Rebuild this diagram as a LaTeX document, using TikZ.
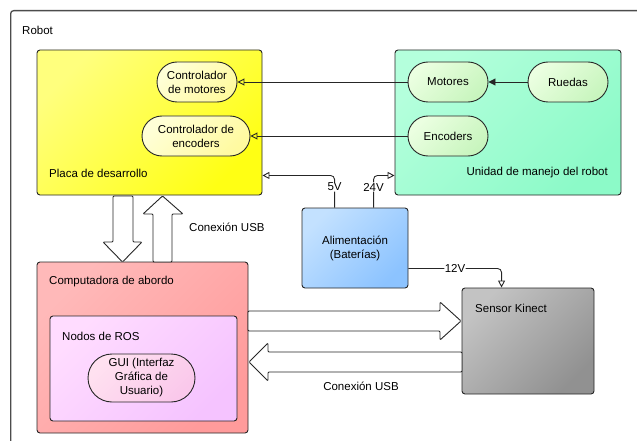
\documentclass[tikz,border=0pt]{standalone}
\usepackage{fontspec}
\setmainfont{Liberation Sans}
\usetikzlibrary{arrows.meta,calc,positioning,shapes.misc}
\tikzset{
  every picture/.style={draw=black, text=black},
}
\definecolor{placaA}{RGB}{255,255,125}
\definecolor{placaB}{RGB}{255,255,20}
\definecolor{unidadA}{RGB}{180,255,220}
\definecolor{unidadB}{RGB}{140,250,200}
\definecolor{pillYA}{RGB}{255,255,215}
\definecolor{pillYB}{RGB}{255,250,160}
\definecolor{pillGA}{RGB}{235,255,225}
\definecolor{pillGB}{RGB}{200,245,190}
\definecolor{alimA}{RGB}{195,225,255}
\definecolor{alimB}{RGB}{140,195,255}
\definecolor{kinectA}{RGB}{195,195,195}
\definecolor{kinectB}{RGB}{145,145,145}
\definecolor{compA}{RGB}{255,185,185}
\definecolor{compB}{RGB}{255,155,155}
\definecolor{rosA}{RGB}{255,220,255}
\definecolor{rosB}{RGB}{245,195,255}
\definecolor{guiA}{RGB}{255,225,240}
\definecolor{guiB}{RGB}{250,200,235}

\begin{document}
\begin{tikzpicture}[x=1pt, y=-1pt,
  every node/.style={font=\fontsize{11.5}{14}\selectfont},
  block/.style={draw=black!85, line width=0.9pt, rounded corners=3pt, inner sep=0pt},
  pill/.style={draw=black!85, line width=0.9pt, rounded rectangle, minimum height=40pt,
    inner sep=0pt, align=center},
  lbl/.style={inner sep=0pt, anchor=west},
  sig/.style={draw=black!85, line width=0.9pt, rounded corners=4pt,
    -{Triangle[open, length=7pt, width=7pt]}},
  volt/.style={fill=white, inner sep=0.5pt},
  usb/.style={draw=black!85, fill=white, line width=0.9pt, rounded corners=1pt}]
\useasboundingbox (0,0) rectangle (637,441);
\clip (0,0) rectangle (637,441);
% Robot frame
\node[block, draw=black!70, line width=1.3pt, minimum width=660pt, minimum height=460pt,
  anchor=north west] (robot) at (10,10) {};
\node[lbl] (robotlbl) at (22,30) {Robot};
% Placa de desarrollo
\node[block, left color=placaA, right color=placaB, shading angle=45,
  minimum width=225pt, minimum height=145pt] (placa) at (149.5,122.5) {};
\node[lbl] (placalbl) at (49,173) {Placa de desarrollo};
\node[pill, left color=pillYA, right color=pillYB, shading angle=45,
  minimum width=80pt] (cm) at (197,82) {Controlador\\de motores};
\node[pill, left color=pillYA, right color=pillYB, shading angle=45,
  minimum width=108pt] (ce) at (196,136) {Controlador de\\encoders};
% Unidad de manejo
\node[block, left color=unidadA, right color=unidadB, shading angle=45,
  minimum width=226pt, minimum height=145pt] (unidad) at (508,122.5) {};
\node[lbl, anchor=east] (unidadlbl) at (608,173) {Unidad de manejo del robot};
\node[pill, left color=pillGA, right color=pillGB, shading angle=45,
  minimum width=80pt] (mot) at (448,82) {Motores};
\node[pill, left color=pillGA, right color=pillGB, shading angle=45,
  minimum width=80pt] (rue) at (568,82) {Ruedas};
\node[pill, left color=pillGA, right color=pillGB, shading angle=45,
  minimum width=80pt] (enc) at (448,136) {Encoders};
% Alimentacion
\node[block, left color=alimA, right color=alimB, shading angle=45,
  minimum width=106pt, minimum height=80pt, align=center] (alim) at (355,248)
  {Alimentación\\(Baterías)};
% Sensor Kinect
\node[block, left color=kinectA, right color=kinectB, shading angle=45,
  minimum width=132pt, minimum height=106pt] (kinect) at (528,341) {};
\node[lbl] (kinectlbl) at (475,308) {Sensor Kinect};
% Computadora de abordo
\node[block, left color=compA, right color=compB, shading angle=45,
  minimum width=211pt, minimum height=171pt] (comp) at (142.5,347.5) {};
\node[lbl] (complbl) at (49,282) {Computadora de abordo};
\node[block, left color=rosA, right color=rosB, shading angle=45,
  minimum width=187pt, minimum height=105pt] (ros) at (143.5,368.5) {};
\node[lbl] (roslbl) at (62,336) {Nodos de ROS};
\node[pill, left color=guiA, right color=guiB, shading angle=45,
  minimum width=107pt, minimum height=48pt] (gui) at (141.5,378)
  {GUI (Interfaz\\Gráfica de\\Usuario)};
% Signals
\draw[sig] (mot.west) -- (cm.east);
\draw[sig] (enc.west) -- (ce.east);
\draw[draw=black!85, line width=0.9pt, -{Triangle[length=7pt, width=7pt]}] (rue.west) -- (mot.east);
% Power lines
\draw[sig] ($(alim.north west)+(33,0)$) |- ($(placa.south east)+(0,-20)$)
  node[volt, pos=0.32] {5V};
\draw[sig] ($(alim.north west)+(72,0)$) |- ($(unidad.south west)+(0,-20)$)
  node[volt, pos=0.32] {24V};
\draw[sig] ($(alim.south east)+(0,-20)$) -| ($(kinect.north west)+(40,0)$)
  node[volt, pos=0.25] {12V};
% USB block arrows
\draw[usb] (113,196) -- (133,196) -- (133,242) -- (142,242) -- (122.5,262)
  -- (103,242) -- (113,242) -- cycle;
\draw[usb] (153,262) -- (172,262) -- (172,214) -- (183,214) -- (162.5,196)
  -- (143,214) -- (153,214) -- cycle;
\node[lbl] (usbA) at (189,227) {Conexión USB};
\draw[usb] (248,311) -- (440,311) -- (440,302) -- (461,321) -- (440,340)
  -- (440,331) -- (248,331) -- cycle;
\draw[usb] (462,352) -- (268,352) -- (268,343) -- (249,362) -- (268,381)
  -- (268,372) -- (462,372) -- cycle;
\node (usbB) at (361,386) {Conexión USB};
\end{tikzpicture}
\end{document}
